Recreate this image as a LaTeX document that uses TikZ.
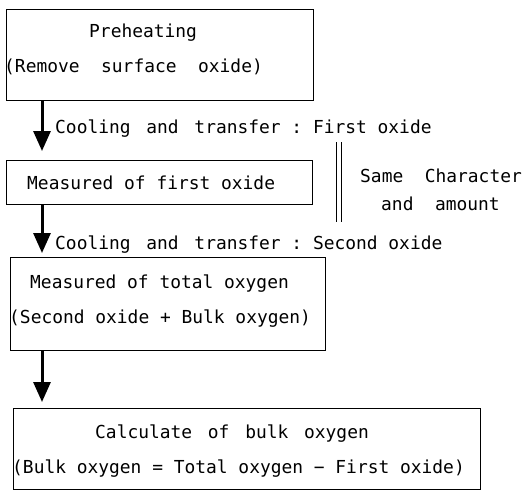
\documentclass[tikz,border=0pt]{standalone}
\usepackage{fontspec}
\setmonofont{DejaVu Sans Mono}
\usetikzlibrary{arrows.meta}
\newcommand\xsp{\kern5pt}
\begin{document}
\begin{tikzpicture}[x=1pt,y=-1pt,
  box/.style={draw, line width=0.8pt, inner sep=0pt, rectangle},
  txt/.style={anchor=base west, inner sep=0pt, font=\ttfamily\fontsize{17.9}{20}\selectfont},
  arr/.style={line width=3pt, -{Triangle[width=17pt,length=20pt]}},
  eqline/.style={line width=0.9pt}]
\useasboundingbox (0,0) rectangle (528,495);
% boxes
\node[box, minimum width=307pt, minimum height=91pt] (b1) at (159.5,54.5) {};
\node[box, minimum width=306pt, minimum height=44pt] (b2) at (159,182) {};
\node[box, minimum width=315pt, minimum height=93pt] (b3) at (167.5,303.5) {};
\node[box, minimum width=467pt, minimum height=81pt] (b4) at (246.5,448.5) {};
% texts
\node[txt] (t1a) at (89,38) {Preheating};
\node[txt] (t1b) at (4,73) {(Remove~~surface~~oxide)};
\node[txt] (l1) at (55,134) {Cooling\xsp{} and\xsp{} transfer : First oxide};
\node[txt] (t2) at (27,189) {Measured of first oxide};
\node[txt] (s1) at (360,182) {Same~~Character};
\node[txt] (s2) at (381,210) {and~~amount};
\node[txt] (l2) at (55,249) {Cooling\xsp{} and\xsp{} transfer : Second oxide};
\node[txt] (t3a) at (30,288) {Measured of total oxygen};
\node[txt] (t3b) at (9,323) {(Second oxide + Bulk oxygen)};
\node[txt] (t4a) at (95,438) {Calculate\xsp{} of\xsp{} bulk\xsp{} oxygen};
\node[txt] (t4b) at (12,473) {(Bulk oxygen = Total oxygen − First oxide)};
% arrows
\coordinate (e1) at (42,151);
\coordinate (e2) at (42,253);
\coordinate (e3) at (42,402);
\draw[arr] (b1.south -| e1) -- (e1);
\draw[arr] (b2.south -| e2) -- (e2);
\draw[arr] (b3.south -| e3) -- (e3);
% double line (same character and amount)
\coordinate (d1) at (336,142);
\coordinate (d2) at (336,222);
\coordinate (d3) at (341,142);
\coordinate (d4) at (341,222);
\draw[eqline] (d1) -- (d2);
\draw[eqline] (d3) -- (d4);
\end{tikzpicture}
\end{document}
